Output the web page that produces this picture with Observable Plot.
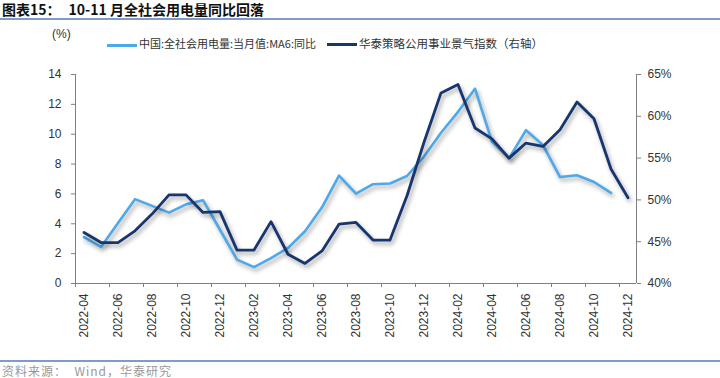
<!DOCTYPE html>
<html>
<head>
<meta charset="utf-8">
<script src="https://cdn.jsdelivr.net/npm/d3@7"></script>
<script src="https://cdn.jsdelivr.net/npm/@observablehq/plot@0.6"></script>
<style>
  body { margin:0; width:720px; height:378px; position:relative; background:#fff; overflow:hidden;
         font-family: "Liberation Sans", Arial, "Noto Sans CJK SC", sans-serif; }
  .abs { position:absolute; white-space:nowrap; }
  .cjk { font-family: "Noto Sans CJK SC", sans-serif; }
  .sw { display:inline-block; width:30px; height:3px; vertical-align:middle; margin-right:2px; }
  #chart g[aria-label="line"] path { filter: drop-shadow(2px 3px 2px rgba(0,0,0,0.35)); }
</style>
</head>
<body>
<div class="abs cjk" style="left:2px;top:0px;font-size:14px;font-weight:bold;color:#111;line-height:18px;">图表15：<span style="margin-left:8px;">10-11 月全社会用电量同比回落</span></div>
<div class="abs" style="left:0;top:18px;width:720px;height:1.5px;background:#7f9bcb;"></div>
<div class="abs" style="left:52px;top:27px;font-size:12px;color:#333;">(%)</div>
<div class="abs" style="left:107px;top:35px;font-size:11px;color:#333;line-height:16px;"><span class="sw" style="background:#4da9ea;"></span><span class="cjk" id="lg1"></span></div>
<div class="abs" style="left:327px;top:35px;font-size:11.5px;color:#333;line-height:16px;"><span class="sw" style="background:#17366f;"></span><span class="cjk" id="lg2"></span></div>
<div id="chart" class="abs" style="left:0;top:50px;"></div>
<div class="abs" style="left:0;top:360px;width:720px;height:1.5px;background:#7f9bcb;"></div>
<div class="abs cjk" style="left:2px;top:364px;font-size:12px;line-height:14px;color:#999;letter-spacing:1px;">资料来源：&nbsp; Wind，华泰研究</div>
<script>
const seriesNames = ["中国:全社会用电量:当月值:MA6:同比", "华泰策略公用事业景气指数（右轴）"];
const months = ["2022-04","2022-05","2022-06","2022-07","2022-08","2022-09","2022-10","2022-11","2022-12",
  "2023-01","2023-02","2023-03","2023-04","2023-05","2023-06","2023-07","2023-08","2023-09","2023-10","2023-11","2023-12",
  "2024-01","2024-02","2024-03","2024-04","2024-05","2024-06","2024-07","2024-08","2024-09","2024-10","2024-11","2024-12"];
const usageYoY = [3.1, 2.45, 4.05, 5.65, 5.2, 4.75, 5.3, 5.58, 3.6, 1.6, 1.1, 1.7, 2.38, 3.5, 5.1, 7.22, 6.02, 6.65, 6.7,
  7.2, 8.5, 10.1, 11.5, 13.05, 9.5, 8.38, 10.27, 9.27, 7.13, 7.25, 6.8, 6.07, null];
const utilityIndex = [46.1, 44.9, 44.9, 46.3, 48.3, 50.6, 50.6, 48.5, 48.6, 44.0, 44.0, 47.4, 43.5, 42.4, 43.9, 47.1, 47.3,
  45.2, 45.2, 50.5, 56.9, 62.8, 63.8, 58.6, 57.3, 55.0, 56.8, 56.4, 58.4, 61.7, 59.7, 53.7, 50.25];
const leftTicks = [0, 2, 4, 6, 8, 10, 12, 14];
const rightTicks = [40, 45, 50, 55, 60, 65];
const xLabelMonths = ["2022-04","2022-06","2022-08","2022-10","2022-12","2023-02","2023-04","2023-06","2023-08",
  "2023-10","2023-12","2024-02","2024-04","2024-06","2024-08","2024-10","2024-12"];

document.getElementById("lg1").textContent = seriesNames[0];
document.getElementById("lg2").textContent = seriesNames[1];

const leftMax = 14, rMin = 40, rMax = 65;
const toLeft = v => (v - rMin) * leftMax / (rMax - rMin);
const fromLeft = d => Math.round(rMin + d * (rMax - rMin) / leftMax);

const rows = months.map((m, i) => ({i, m, usage: usageYoY[i], idx: utilityIndex[i]}));
const labelIdx = xLabelMonths.map(m => months.indexOf(m));
const boundaries = labelIdx.map(i => i - 0.5);

const axisStroke = "#7f7f7f";
const chart = Plot.plot({
  width: 720, height: 310,
  marginLeft: 75, marginRight: 84, marginTop: 24, marginBottom: 77,
  style: {fontFamily: '"Liberation Sans", Arial, sans-serif', fontSize: "12px", color: "#333", background: "transparent", overflow: "visible"},
  x: {type: "linear", domain: [-0.5, months.length - 0.5]},
  y: {domain: [0, leftMax]},
  marks: [
    Plot.axisY({ticks: leftTicks, anchor: "left", tickSize: 4, tickPadding: 10, label: null, stroke: axisStroke, fill: "#333"}),
    Plot.axisY({ticks: rightTicks.map(toLeft), anchor: "right", tickSize: 4, tickPadding: 7, label: null,
      tickFormat: d => fromLeft(d) + "%", stroke: axisStroke, fill: "#333"}),
    Plot.axisX({ticks: boundaries, tickSize: 4, tickFormat: () => "", label: null, stroke: axisStroke}),
    Plot.axisX({ticks: labelIdx, tickSize: 0, tickRotate: -90, tickPadding: 10, label: null,
      tickFormat: i => months[i], fill: "#333"}),
    Plot.ruleX([-0.5, months.length - 0.5], {stroke: axisStroke}),
    Plot.ruleY([0], {stroke: axisStroke}),
    Plot.line(rows.filter(d => d.usage != null), {x: "i", y: "usage", stroke: "#4da9ea", strokeWidth: 2.6}),
    Plot.line(rows, {x: "i", y: d => toLeft(d.idx), stroke: "#17366f", strokeWidth: 2.8})
  ]
});
document.getElementById("chart").appendChild(chart);
</script>
</body>
</html>
